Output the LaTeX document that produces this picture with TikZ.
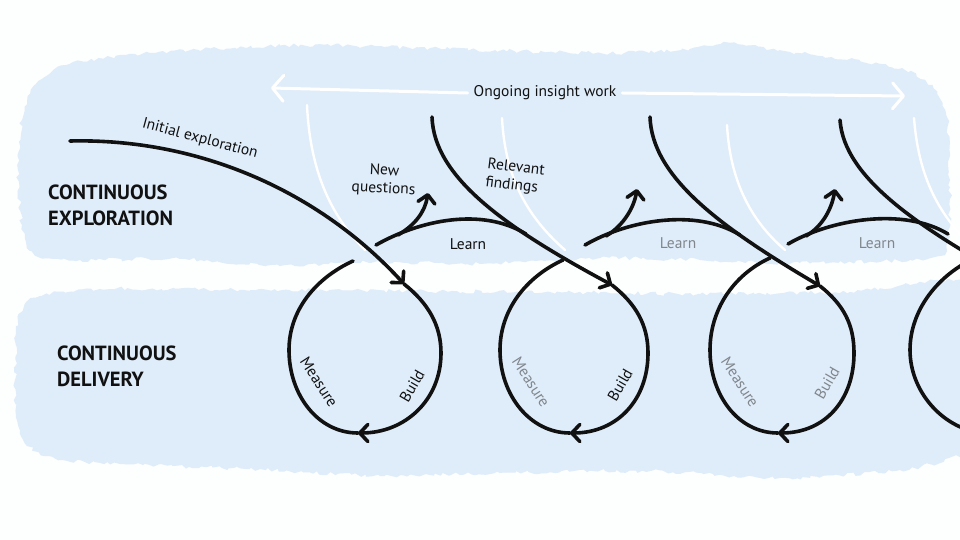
\documentclass[tikz,border=0pt]{standalone}
\usepackage{fontspec}
\setmainfont{PT Sans}
\usepackage{tikz}
\usetikzlibrary{arrows.meta}
\usetikzlibrary{decorations.pathmorphing}
\definecolor{Paper}{RGB}{253,254,254}
\definecolor{Sky}{RGB}{223,236,249}
\definecolor{Ink}{RGB}{17,17,17}
\definecolor{Dim}{RGB}{128,134,140}
\tikzstyle{Wash}=[fill=Sky,decorate,decoration={random steps,segment length=4pt,amplitude=2pt}]
\tikzstyle{Stroke}=[draw=Ink,line width=3.6pt,line cap=round,line join=round]
\tikzstyle{Tip}=[-{Straight Barb[length=8pt,width=17pt,round]}]
\tikzstyle{Ghost}=[draw=white,line width=2.4pt,line cap=round]
\tikzstyle{Beam}=[draw=white,line width=3pt,line cap=round,
-{Straight Barb[length=11pt,width=26pt,round]}]
\tikzstyle{Note}=[inner sep=0pt,text=Ink,font=\fontsize{15.5}{18}\selectfont,align=center]
\tikzstyle{Faded}=[Note,text=Dim]
\tikzstyle{Title}=[inner sep=0pt,anchor=west,align=left,text=Ink,
font=\bfseries\fontsize{20.5}{26}\selectfont]

\begin{document}
\begin{tikzpicture}[x=1pt,y=-1pt]
    \useasboundingbox(0,0)rectangle(960,540);
    \clip(0,0)rectangle(960,540);
    \fill[Paper](0,0)rectangle(960,540);
    % washes
    \pgfmathsetseed{11}
    \fill[Wash]plot[smooth cycle]coordinates{(22,120)(35,85)(70,64)(150,53)(300,45)(450,49)
        (600,53)(690,49)(730,43)(790,52)(880,64)(925,80)(946,115)(950,180)(948,240)(930,258)
        (800,263)(700,260)(600,258)(480,264)(380,262)(280,266)(180,259)(80,260)(35,255)
        (22,225)(18,170)};
    \fill[Wash]plot[smooth cycle]coordinates{(18,320)(35,298)(100,289)(250,290)(400,291)
        (550,292)(700,294)(850,292)(975,288)(975,440)(950,458)(900,470)(780,478)(650,471)
        (500,473)(380,476)(250,469)(120,464)(45,456)(20,430)(15,380)};
    % faded trails
    \coordinate(g1)at(307,105);\coordinate(h1)at(365,250);
    \coordinate(g2)at(502,118);\coordinate(h2)at(565,250);
    \coordinate(g3)at(727,125);\coordinate(h3)at(785,250);
    \coordinate(g4)at(914,118);\coordinate(h4)at(962,236);
    \draw[Ghost](g1)..controls +(3,65) and +(-35,-35)..(h1);
    \draw[Ghost](g2)..controls +(3,57) and +(-40,-35)..(h2);
    \draw[Ghost](g3)..controls +(3,55) and +(-35,-30)..(h3);
    \draw[Ghost](g4)..controls +(4,52) and +(-28,-30)..(h4);
    % ongoing insight work
    \node[Note,inner xsep=6pt](ongoing)at(545,93){Ongoing insight work};
    \coordinate(owl)at(271,88);
    \coordinate(owr)at(905,96);
    \draw[Beam](ongoing.west)--(owl);
    \draw[Beam](ongoing.east)--(owr);
    % path points
    \coordinate(i0)at(70,141);
    \coordinate(t1)at(404,284);\coordinate(r1)at(441,353);\coordinate(b1)at(358,433);
    \coordinate(l1)at(289,350);\coordinate(e1)at(353,261);
    \coordinate(a1)at(376,245);\coordinate(m1)at(526,234);
    \coordinate(q1)at(398,235);\coordinate(n1)at(428,193);
    \coordinate(s2)at(432,117);\coordinate(t2)at(612,285);
    \coordinate(r2)at(648,353);\coordinate(b2)at(570,433);
    \coordinate(l2)at(500,350);\coordinate(e2)at(563,260);
    \coordinate(a2)at(585,245);\coordinate(m2)at(740,235);
    \coordinate(q2)at(606,236);\coordinate(n2)at(637,189);
    \coordinate(s3)at(650,117);\coordinate(t3)at(820,286);
    \coordinate(r3)at(854,353);\coordinate(b3)at(778,433);
    \coordinate(l3)at(710,350);\coordinate(e3)at(770,258);
    \coordinate(a3)at(788,244);\coordinate(m3)at(948,234);
    \coordinate(q3)at(806,236);\coordinate(n3)at(835,189);
    \coordinate(s4)at(840,120);\coordinate(t4)at(1028,288);
    \coordinate(r4)at(1062,353);\coordinate(b4)at(988,433);
    \coordinate(l4)at(910,350);\coordinate(e4)at(975,258);
    % first cycle
    \draw[Stroke,Tip](i0)..controls +(130,-3) and +(-84,-92)..(t1);
    \draw[Stroke,Tip](t1)..controls +(24,19) and +(0,-28)..(r1)..controls +(0,47) and +(47,0)..(b1);
    \draw[Stroke](b1)..controls +(-40,0) and +(0,45)..(l1)..controls +(0,-40) and +(-37,17)..(e1);
    \draw[Stroke](a1)..controls +(44,-25) and +(-44,-27)..(m1);
    \draw[Stroke,Tip](q1)..controls +(17,-10) and +(-3,19)..(n1);
    \draw[Stroke,Tip](s2)..controls +(2,60) and +(-108,-58)..(t2);
    % second cycle
    \draw[Stroke,Tip](t2)..controls +(24,19) and +(0,-28)..(r2)..controls +(0,47) and +(47,0)..(b2);
    \draw[Stroke](b2)..controls +(-40,0) and +(0,45)..(l2)..controls +(0,-40) and +(-37,17)..(e2);
    \draw[Stroke](a2)..controls +(43,-25) and +(-44,-27)..(m2);
    \draw[Stroke,Tip](q2)..controls +(17,-10) and +(-3,19)..(n2);
    \draw[Stroke,Tip](s3)..controls +(2,60) and +(-100,-59)..(t3);
    % third cycle
    \draw[Stroke,Tip](t3)..controls +(24,19) and +(0,-28)..(r3)..controls +(0,47) and +(47,0)..(b3);
    \draw[Stroke](b3)..controls +(-40,0) and +(0,45)..(l3)..controls +(0,-40) and +(-37,17)..(e3);
    \draw[Stroke](a3)..controls +(43,-25) and +(-44,-27)..(m3);
    \draw[Stroke,Tip](q3)..controls +(17,-10) and +(-3,19)..(n3);
    \draw[Stroke](s4)..controls +(4,58) and +(-110,-60)..(t4);
    % fourth cycle, cut by the edge
    \draw[Stroke](t4)..controls +(24,19) and +(0,-28)..(r4)..controls +(0,47) and +(47,0)..(b4);
    \draw[Stroke](b4)..controls +(-40,0) and +(0,45)..(l4)..controls +(0,-40) and +(-37,17)..(e4);
    % labels
    \node[Note,rotate=-15](init)at(200,139){Initial exploration};
    \node[Note,rotate=-3](newq)at(384,180){New\\questions};
    \node[Note,align=left,rotate=-7](finds)at(515,177){Relevant\\findings};
    \node[Note](learnA)at(468,244){Learn};
    \node[Faded](learnB)at(678,243){Learn};
    \node[Faded](learnC)at(877,243){Learn};
    \node[Note,rotate=-57](measA)at(319,382){Measure};
    \node[Faded,rotate=-57](measB)at(531,382){Measure};
    \node[Faded,rotate=-57](measC)at(740,382){Measure};
    \node[Note,rotate=60](buildA)at(412,386){Build};
    \node[Note,rotate=60](buildB)at(620,385){Build};
    \node[Faded,rotate=60](buildC)at(827,383){Build};
    \node[Title](ttlA)at(48,205){CONTINUOUS\\EXPLORATION};
    \node[Title](ttlB)at(57,366){CONTINUOUS\\DELIVERY};
\end{tikzpicture}
\end{document}
